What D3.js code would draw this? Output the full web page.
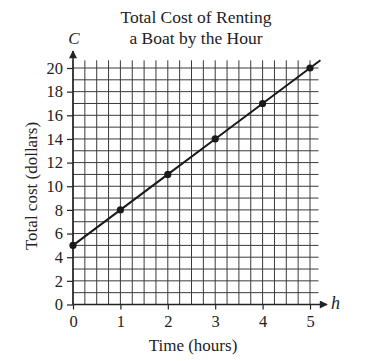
<!DOCTYPE html>
<html><head><meta charset="utf-8">
<script src="https://cdn.jsdelivr.net/npm/d3@7"></script>
<style>body{margin:0;background:#fff}svg{display:block}text{font-family:"Liberation Serif","DejaVu Serif",serif;fill:#222}</style>
</head><body>
<svg id="c" width="384" height="361"></svg>
<script>
const hours = [0, 1, 2, 3, 4, 5];
const cost = [5, 8, 11, 14, 17, 20];
const xTicks = [0, 1, 2, 3, 4, 5];
const yTicks = [0, 2, 4, 6, 8, 10, 12, 14, 16, 18, 20];
const titleLines = ["Total Cost of Renting", "a Boat by the Hour"];

const svg = d3.select("#c");
const x = d3.scaleLinear().domain([0, 5]).range([73, 310]);
const y = d3.scaleLinear().domain([0, 20]).range([304.5, 68]);
const xMax = 5.18, yMax = 20.65;
const g = svg.append("g");
const SERIF = '"Liberation Serif","DejaVu Serif",serif';

// grid
const vx = d3.range(0, 5.001, 0.25);
g.selectAll(".v").data(vx).join("line")
  .attr("x1", d => x(d)).attr("x2", d => x(d))
  .attr("y1", y(0)).attr("y2", y(yMax))
  .attr("stroke", "#3a3a3a").attr("stroke-width", 1);
const hy = d3.range(0, 20.001, 1);
g.selectAll(".h").data(hy).join("line")
  .attr("y1", d => y(d)).attr("y2", d => y(d))
  .attr("x1", x(0)).attr("x2", x(xMax))
  .attr("stroke", "#3a3a3a").attr("stroke-width", 1);

// axes
const yAxis = d3.axisLeft(y).tickValues(yTicks).tickFormat(d3.format("d")).tickSize(6).tickPadding(4);
const ya = svg.append("g").attr("transform", `translate(${x(0)},0)`).call(yAxis)
  .attr("font-family", SERIF).attr("font-size", 16.5);
ya.select(".domain").remove();
ya.selectAll("line").attr("stroke", "#222").attr("stroke-width", 1.2);
ya.selectAll("text").attr("fill", "#222");

const xAxis = d3.axisBottom(x).tickValues(xTicks).tickFormat(d3.format("d")).tickSize(5).tickPadding(6);
const xa = svg.append("g").attr("transform", `translate(0,${y(0)})`).call(xAxis)
  .attr("font-family", SERIF).attr("font-size", 16.5);
xa.select(".domain").remove();
xa.selectAll("line").attr("stroke", "#222").attr("stroke-width", 1.2);
xa.selectAll("text").attr("fill", "#222");

// axis lines with arrows
svg.append("defs").append("marker").attr("id", "ar").attr("viewBox", "0 0 10 10")
  .attr("refX", 9).attr("refY", 5).attr("markerWidth", 10).attr("markerHeight", 8)
  .attr("markerUnits", "userSpaceOnUse").attr("orient", "auto")
  .append("path").attr("d", "M0,0L10,5L0,10Z").attr("fill", "#222");
svg.append("line").attr("x1", x(0)).attr("x2", x(0)).attr("y1", y(0)).attr("y2", 51)
  .attr("stroke", "#222").attr("stroke-width", 1.5).attr("marker-end", "url(#ar)");
svg.append("line").attr("x1", x(0)).attr("x2", 327).attr("y1", y(0)).attr("y2", y(0))
  .attr("stroke", "#222").attr("stroke-width", 1.5).attr("marker-end", "url(#ar)");

// data line
const ext = [...hours.map((h, i) => [h, cost[i]]), [5.22, 20.66]];
svg.append("path").datum(ext)
  .attr("d", d3.line().x(d => x(d[0])).y(d => y(d[1])))
  .attr("fill", "none").attr("stroke", "#1a1a1a").attr("stroke-width", 2);
svg.selectAll(".pt").data(hours).join("circle")
  .attr("cx", d => x(d)).attr("cy", (d, i) => y(cost[i])).attr("r", 3.6).attr("fill", "#1a1a1a");

// titles and labels
svg.selectAll(".t").data(titleLines).join("text")
  .attr("x", 196).attr("y", (d, i) => 23 + i * 21).attr("text-anchor", "middle")
  .style("font-size", "17.5px").text(d => d);
svg.append("text").attr("x", 74).attr("y", 44).attr("text-anchor", "middle")
  .style("font-size", "17px").style("font-style", "italic").text("C");
svg.append("text").attr("x", 331).attr("y", 309)
  .style("font-size", "18px").style("font-style", "italic").text("h");
svg.append("text").attr("x", 193).attr("y", 351).attr("text-anchor", "middle")
  .style("font-size", "17px").text("Time (hours)");
svg.append("text").attr("transform", "translate(37,186) rotate(-90)").attr("text-anchor", "middle")
  .style("font-size", "17px").text("Total cost (dollars)");
</script>
</body></html>
